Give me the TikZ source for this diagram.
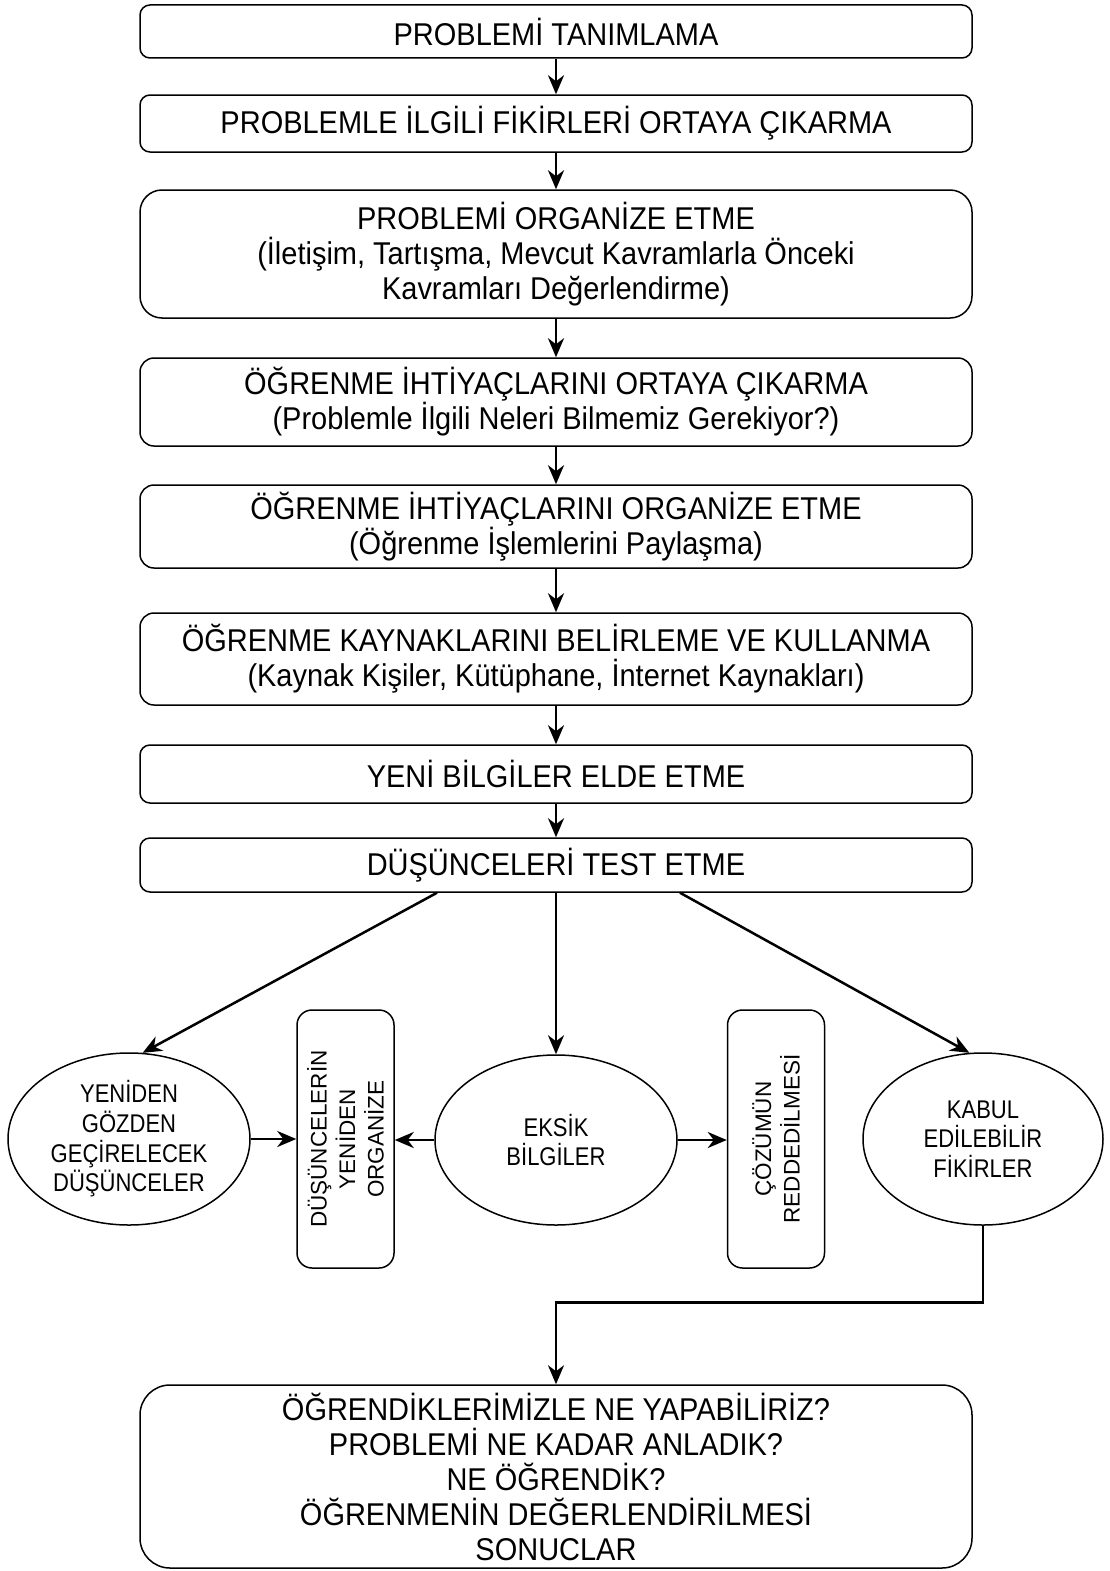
\documentclass[tikz,border=0pt]{standalone}
\usepackage{fontspec}
\setmainfont{Liberation Sans}
\newfontfamily\boxfont[FakeStretch=0.92]{Liberation Sans}
\newfontfamily\ellfont[FakeStretch=0.86]{Liberation Sans}
\usetikzlibrary{arrows.meta,shapes.geometric,calc}
\begin{document}
\begin{tikzpicture}[x=1pt,y=-1pt,
 box/.style={draw,line width=1.5pt,rounded corners=10pt,minimum width=832pt,align=center,
   font=\boxfont\fontsize{31.5}{35}\selectfont,inner sep=0pt},
 ell/.style={draw,ellipse,line width=1.5pt,inner sep=0pt,align=center,
   font=\ellfont\fontsize{25.6}{29.7}\selectfont},
 vbox/.style={draw,line width=1.5pt,rounded corners=15pt,rotate=90,minimum width=258pt,
   minimum height=97pt,inner sep=0pt,align=center,font=\fontsize{22.5}{28.5}\selectfont},
 arr/.style={line width=2.5pt,-{Stealth[length=19pt,width=16pt,inset=6pt]}}]
\useasboundingbox (0,0) rectangle (1109,1571);

\node[box,minimum height=53pt] (b1) at (556,31.5) {PROBLEMİ TANIMLAMA};
\node[box,minimum height=57pt] (b2) at (556,123.5) {PROBLEMLE İLGİLİ FİKİRLERİ ORTAYA ÇIKARMA};
\node[box,minimum height=128pt,rounded corners=22pt] (b3) at (556,254)
  {PROBLEMİ ORGANİZE ETME\\(İletişim, Tartışma, Mevcut Kavramlarla Önceki\\Kavramları Değerlendirme)};
\node[box,minimum height=88pt,rounded corners=14pt] (b4) at (556,402)
  {ÖĞRENME İHTİYAÇLARINI ORTAYA ÇIKARMA\\(Problemle İlgili Neleri Bilmemiz Gerekiyor?)};
\node[box,minimum height=83pt,rounded corners=14pt] (b5) at (556,526.5)
  {ÖĞRENME İHTİYAÇLARINI ORGANİZE ETME\\(Öğrenme İşlemlerini Paylaşma)};
\node[box,minimum height=92pt,rounded corners=14pt] (b6) at (556,659)
  {ÖĞRENME KAYNAKLARINI BELİRLEME VE KULLANMA\\(Kaynak Kişiler, Kütüphane, İnternet Kaynakları)};
\node[box,minimum height=58pt] (b7) at (556,774) {YENİ BİLGİLER ELDE ETME};
\node[box,minimum height=54pt] (b8) at (556,865) {DÜŞÜNCELERİ TEST ETME};

\node[ell,minimum width=242pt,minimum height=172pt] (e1) at (129,1139)
  {YENİDEN\\GÖZDEN\\GEÇİRELECEK\\DÜŞÜNCELER};
\node[ell,minimum width=242pt,minimum height=170pt] (e2) at (556,1140) {EKSİK\\BİLGİLER};
\node[ell,minimum width=240pt,minimum height=172pt] (e3) at (983,1139) {KABUL\\EDİLEBİLİR\\FİKİRLER};

\node[vbox] (v1) at (345.5,1139) {DÜŞÜNCELERİN\\YENİDEN\\ORGANİZE};
\node[vbox] (v2) at (776,1139) {ÇÖZÜMÜN\\REDDEDİLMESİ};

\node[box,minimum height=183pt,rounded corners=30pt] (b9) at (556,1476.5)
  {ÖĞRENDİKLERİMİZLE NE YAPABİLİRİZ?\\PROBLEMİ NE KADAR ANLADIK?\\NE ÖĞRENDİK?\\ÖĞRENMENİN DEĞERLENDİRİLMESİ\\SONUCLAR};

\draw[arr] (b1) -- (b2);
\draw[arr] (b2) -- (b3);
\draw[arr] (b3) -- (b4);
\draw[arr] (b4) -- (b5);
\draw[arr] (b5) -- (b6);
\draw[arr] (b6) -- (b7);
\draw[arr] (b7) -- (b8);

\draw[arr] ([xshift=-119pt]b8.south) -- (e1.81);
\draw[arr] (b8.south -| e2.north) -- (e2.north);
\draw[arr] ([xshift=124pt]b8.south) -- (e3.99);

\draw[arr] (e1.east) -- (e1.east -| v1.north);
\draw[arr] (e2.west) -- (e2.west -| v1.south);
\draw[arr] (e2.east) -- (e2.east -| v2.north);

\draw[arr] (e3.south) -- ([yshift=82pt]b9.north -| e3.south) -| (b9.north);
\end{tikzpicture}
\end{document}
